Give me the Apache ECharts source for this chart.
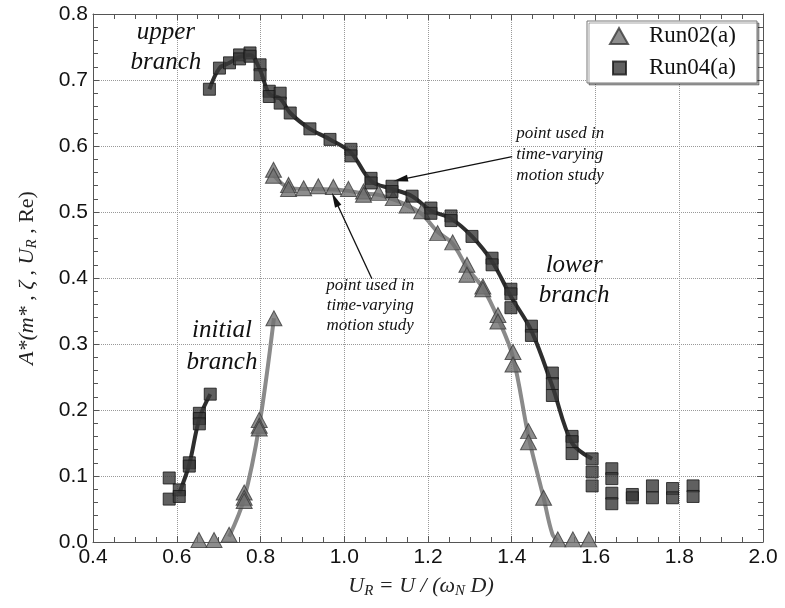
<!DOCTYPE html>
<html><head><meta charset="utf-8">
<script src="https://cdn.jsdelivr.net/npm/echarts@6/dist/echarts.min.js"></script>
<style>html,body{margin:0;padding:0;background:#fff}#c{width:785px;height:608px}</style>
</head><body><div id="c"></div>
<script>
// ---------- data ----------
const seriesNames = ['Run02(a)', 'Run04(a)'];

const run02Points = [
  [0.653,0.003],[0.689,0.003],[0.725,0.011],[0.761,0.075],[0.761,0.067],[0.761,0.062],
  [0.797,0.185],[0.797,0.176],[0.797,0.172],[0.832,0.339],
  [0.831,0.564],[0.831,0.555],[0.867,0.541],[0.867,0.535],[0.903,0.536],[0.938,0.539],
  [0.974,0.538],[1.010,0.535],[1.046,0.531],[1.046,0.526],[1.082,0.529],[1.117,0.521],
  [1.150,0.510],[1.185,0.501],[1.223,0.468],[1.259,0.454],[1.293,0.420],[1.293,0.405],
  [1.331,0.387],[1.331,0.383],[1.367,0.344],[1.367,0.334],[1.403,0.288],[1.403,0.269],
  [1.440,0.168],[1.440,0.151],[1.476,0.067],[1.510,0.004],[1.546,0.004],[1.584,0.004]
];

const run04Points = [
  [0.582,0.097],[0.582,0.065],[0.606,0.079],[0.606,0.069],[0.630,0.120],[0.630,0.115],
  [0.654,0.195],[0.654,0.187],[0.654,0.179],[0.680,0.224],
  [0.678,0.686],[0.702,0.718],[0.726,0.726],[0.750,0.738],[0.750,0.732],[0.775,0.741],
  [0.775,0.736],[0.799,0.723],[0.799,0.708],[0.821,0.683],[0.821,0.675],[0.847,0.680],
  [0.847,0.665],[0.871,0.650],[0.918,0.626],[0.966,0.610],[1.016,0.595],[1.016,0.585],
  [1.064,0.551],[1.064,0.544],[1.114,0.539],[1.114,0.531],[1.162,0.524],[1.207,0.506],
  [1.207,0.498],[1.255,0.494],[1.255,0.487],[1.305,0.463],[1.353,0.430],[1.353,0.420],
  [1.398,0.383],[1.398,0.376],[1.398,0.355],[1.447,0.327],[1.447,0.313],
  [1.497,0.256],[1.497,0.240],[1.497,0.222],[1.544,0.160],[1.544,0.152],[1.544,0.134],
  [1.592,0.126],[1.592,0.106],[1.592,0.085],
  [1.639,0.111],[1.639,0.096],[1.639,0.074],[1.639,0.058],
  [1.688,0.072],[1.688,0.067],[1.736,0.085],[1.736,0.067],
  [1.784,0.081],[1.784,0.067],[1.833,0.085],[1.833,0.069]
];

// fitted curves drawn through the data
const run02CurveInitial = [[0.725,0.008],[0.761,0.066],[0.797,0.176],[0.832,0.339]];
const run02CurveUpper = [
  [0.831,0.556],[0.867,0.537],[0.903,0.535],[0.938,0.535],[0.974,0.534],[1.010,0.532],
  [1.046,0.528],[1.082,0.526],[1.117,0.519],[1.150,0.510],[1.185,0.497],[1.223,0.470],
  [1.259,0.452],[1.294,0.415],[1.331,0.385],[1.367,0.339],[1.403,0.280],[1.440,0.160],
  [1.476,0.067],[1.497,0.012],[1.510,0.002]
];
const run04CurveInitial = [[0.606,0.074],[0.630,0.118],[0.654,0.187],[0.680,0.224]];
const run04CurveUpper = [
  [0.678,0.686],[0.702,0.718],[0.726,0.726],[0.750,0.735],[0.775,0.738],[0.799,0.715],
  [0.821,0.679],[0.847,0.672],[0.871,0.650],[0.918,0.626],[0.966,0.610],[1.016,0.590],
  [1.064,0.547],[1.114,0.535],[1.162,0.524],[1.207,0.502],[1.255,0.490],[1.305,0.463],
  [1.353,0.425],[1.398,0.372],[1.447,0.320],[1.497,0.236],[1.544,0.150],[1.592,0.126]
];

const xTickLabels = ['0.4','0.6','0.8','1.0','1.2','1.4','1.6','1.8','2.0'];
const yTickLabels = ['0.0','0.1','0.2','0.3','0.4','0.5','0.6','0.7','0.8'];

// annotations in data coordinates
const annotations = [
  {text:'upper\nbranch', at:[0.574,0.749], size:25, lh:30, align:'center'},
  {text:'initial\nbranch', at:[0.708,0.296], size:25, lh:32, align:'center'},
  {text:'lower\nbranch', at:[1.549,0.397], size:25, lh:30, align:'center'},
  {text:'point used in\ntime-varying\nmotion study', at:[1.411,0.587], size:17, lh:21, align:'left'},
  {text:'point used in\ntime-varying\nmotion study', at:[1.062,0.358], size:17, lh:20, align:'center'}
];
const arrows = [
  {from:[1.401,0.584], to:[1.134,0.549]},
  {from:[1.066,0.399], to:[0.978,0.519]}
];

// ---------- chart ----------
const chart = echarts.init(document.getElementById('c'), null, {renderer:'canvas'});
const serif = 'Liberation Serif, Times New Roman, serif';
const sans = 'Liberation Sans, Arial, sans-serif';

function fmtX(v){ const i = Math.round((v-0.4)/0.2); return xTickLabels[i] ?? ''; }
function fmtY(v){ const i = Math.round(v/0.1); return yTickLabels[i] ?? ''; }

const baseAxis = {
  axisLine:{show:true, onZero:false, lineStyle:{color:'#555', width:1}},
  axisTick:{show:true, inside:true, length:6, lineStyle:{color:'#555'}},
  minorTick:{show:true, length:5, lineStyle:{color:'#555'}},
  splitLine:{show:false},
  minorSplitLine:{show:false}
};

const option = {
  animation:false,
  backgroundColor:'#fff',
  grid:{left:93, right:22, top:14, bottom:66, containLabel:false},
  xAxis:[
    Object.assign({}, baseAxis, {
      type:'value', min:0.4, max:2.0, interval:0.2, position:'bottom',
      minorTick:{show:true, splitNumber:4, length:5, lineStyle:{color:'#555'}},
      axisLabel:{formatter:fmtX, fontFamily:sans, fontSize:21, color:'#111', margin:5},
      splitLine:{show:true, lineStyle:{type:'dotted', color:'#999', width:1}},
      name:'{i|U}{s|R}{i| = U / (ω}{s|N}{i| D)}',
      nameLocation:'middle', nameGap:29,
      nameTextStyle:{
        padding:[0,14,0,0],
        rich:{
          i:{fontFamily:serif, fontStyle:'italic', fontSize:22, lineHeight:24, color:'#222'},
          s:{fontFamily:serif, fontStyle:'italic', fontSize:15, lineHeight:15, padding:[11,0,0,0], color:'#222'}
        }
      }
    }),
    Object.assign({}, baseAxis, {
      type:'value', min:0.4, max:2.0, interval:0.2, position:'top',
      minorTick:{show:true, splitNumber:4, length:5, lineStyle:{color:'#555'}},
      axisLabel:{show:false}
    })
  ],
  yAxis:[
    Object.assign({}, baseAxis, {
      type:'value', min:0, max:0.8, interval:0.1, position:'left',
      minorTick:{show:true, splitNumber:5, length:5, lineStyle:{color:'#555'}},
      axisLabel:{formatter:fmtY, fontFamily:sans, fontSize:21, color:'#111', margin:5},
      splitLine:{show:true, lineStyle:{type:'dotted', color:'#999', width:1}},
      name:'{i|A*(m*}{n| , }{i|ζ}{n| , }{i|U}{s|R}{n| , Re)}',
      nameLocation:'middle', nameGap:54,
      nameTextStyle:{
        rich:{
          i:{fontFamily:serif, fontStyle:'italic', fontSize:22, lineHeight:24, color:'#222'},
          n:{fontFamily:serif, fontSize:22, lineHeight:24, color:'#222'},
          s:{fontFamily:serif, fontStyle:'italic', fontSize:15, lineHeight:15, padding:[11,0,0,0], color:'#222'}
        }
      }
    }),
    Object.assign({}, baseAxis, {
      type:'value', min:0, max:0.8, interval:0.1, position:'right',
      minorTick:{show:true, splitNumber:5, length:5, lineStyle:{color:'#555'}},
      axisLabel:{show:false}
    })
  ],
  legend:[
    {data:[{name:seriesNames[0], icon:'triangle'}], left:609, top:23, padding:0,
     itemWidth:18, itemHeight:16, selectedMode:false,
     textStyle:{fontFamily:serif, fontSize:23, lineHeight:26, color:'#111', padding:[0,0,0,16]}},
    {data:[{name:seriesNames[1], icon:'rect'}], left:612, top:55, padding:0,
     itemWidth:13, itemHeight:13, selectedMode:false,
     textStyle:{fontFamily:serif, fontSize:23, lineHeight:26, color:'#111', padding:[0,0,0,18]}}
  ],
  graphic:[
    {type:'rect', z:3, shape:{x:587, y:21, width:170, height:62},
     style:{fill:'#fff', stroke:'#777', lineWidth:1, shadowColor:'rgba(0,0,0,0.35)', shadowOffsetX:2, shadowOffsetY:2, shadowBlur:0}}
  ],
  series:[
    {type:'line', name:'run02-initial', data:run02CurveInitial, showSymbol:false, smooth:0.35,
     lineStyle:{color:'#8a8a8a', width:4}, z:2, silent:true},
    {type:'line', name:'run02-upper', data:run02CurveUpper, showSymbol:false, smooth:0.35,
     lineStyle:{color:'#8a8a8a', width:4}, z:2, silent:true},
    {type:'line', name:'run04-initial', data:run04CurveInitial, showSymbol:false, smooth:0.35,
     lineStyle:{color:'#2e2e2e', width:4}, z:2, silent:true},
    {type:'line', name:'run04-upper', data:run04CurveUpper, showSymbol:false, smooth:0.35,
     lineStyle:{color:'#2e2e2e', width:4}, z:2, silent:true},
    {type:'scatter', name:seriesNames[0], data:run02Points, symbol:'triangle', symbolSize:[16,15],
     itemStyle:{color:'#707070', borderColor:'#3a3a3a', borderWidth:1}, z:4, silent:true},
    {type:'scatter', name:seriesNames[1], data:run04Points, symbol:'rect', symbolSize:12,
     itemStyle:{color:'#383838', borderColor:'#161616', borderWidth:1}, z:5, silent:true,
     markLine:{
       silent:true, symbol:['none','triangle'], symbolSize:[1,[7,15]],
       label:{show:false},
       lineStyle:{color:'#111', width:1.3, type:'solid'},
       emphasis:{disabled:true},
       data:arrows.map(a => [{coord:a.from, symbol:'none'}, {coord:a.to, symbol:'triangle', symbolSize:[7,15]}])
     }}
  ]
};
chart.setOption(option);

// place annotation texts using the chart's own coordinate conversion
const g = annotations.map(a => {
  const p = chart.convertToPixel({xAxisIndex:0, yAxisIndex:0}, a.at);
  return {type:'text', z:6, x:p[0], y:p[1],
    style:{text:a.text, fontFamily:serif, fontStyle:'italic', fontSize:a.size, lineHeight:a.lh,
      align:a.align, verticalAlign:'middle', fill:'#111'}};
});
chart.setOption({graphic: option.graphic.concat(g)});
</script>
</body></html>
